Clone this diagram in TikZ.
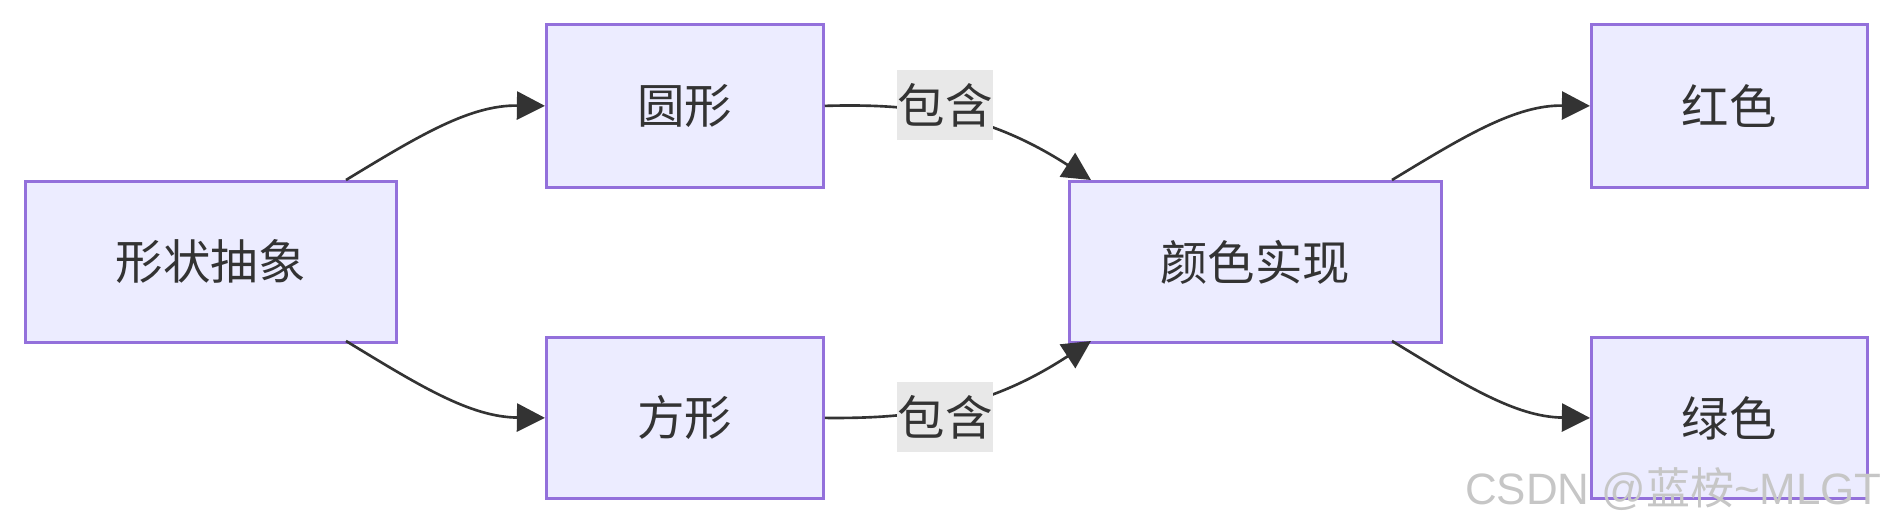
\documentclass[tikz,border=0pt]{standalone}
\usepackage{fontspec}
\newfontfamily\cjk{Noto Sans CJK SC}
\usetikzlibrary{arrows.meta}
\definecolor{txt}{HTML}{333333}
\definecolor{bfill}{HTML}{ECECFF}
\definecolor{bdraw}{HTML}{9370DB}
\definecolor{lbl}{HTML}{E8E8E8}
\tikzset{
 box/.style={draw=bdraw,fill=bfill,line width=1.6pt,text=txt,font=\cjk\fontsize{27}{32}\selectfont,inner sep=0pt,anchor=north west},
 edge/.style={draw=txt,line width=1.5pt,-{Triangle[length=16pt,width=16pt]}},
 elabel/.style={fill=lbl,text=txt,font=\cjk\fontsize{27}{32}\selectfont,minimum width=1.92cm,minimum height=1.4cm,inner sep=0pt}
}
\begin{document}
\begin{tikzpicture}[x=0.02cm,y=-0.02cm]
\useasboundingbox (0,0) rectangle (1890,522);
\node[box,minimum width=7.42cm,minimum height=3.22cm] (a) at (24,180) {形状抽象};
\node[box,minimum width=5.54cm,minimum height=3.26cm] (b) at (545,23) {圆形};
\node[box,minimum width=5.54cm,minimum height=3.22cm] (c) at (545,336) {方形};
\node[box,minimum width=7.44cm,minimum height=3.22cm] (d) at (1068,180) {颜色实现};
\node[box,minimum width=5.52cm,minimum height=3.26cm] (e) at (1590,23) {红色};
\node[box,minimum width=5.52cm,minimum height=3.22cm] (f) at (1590,336) {绿色};
\coordinate (a1) at (346,180); \coordinate (a2) at (346,341);
\coordinate (d1) at (1091,180); \coordinate (d2) at (1091,341);
\coordinate (d3) at (1392,180); \coordinate (d4) at (1392,341);
\draw[edge] (a1) .. controls (420,135) and (470,105) .. (b.west);
\draw[edge] (a2) .. controls (420,386) and (470,417) .. (c.west);
\draw[edge] (b.east) .. controls (920,103) and (990,115) .. (d1);
\draw[edge] (c.east) .. controls (920,419) and (990,407) .. (d2);
\draw[edge] (d3) .. controls (1466,135) and (1516,105) .. (e.west);
\draw[edge] (d4) .. controls (1466,386) and (1516,417) .. (f.west);
\node[elabel] (l1) at (945,105) {包含};
\node[elabel] (l2) at (945,417) {包含};
\node[text=gray!45,font=\fontspec{Liberation Sans}\fontsize{25}{30}\selectfont,anchor=east] (w) at (1888,489) {CSDN @{\cjk 蓝桉}\textasciitilde MLGT};
\end{tikzpicture}
\end{document}
